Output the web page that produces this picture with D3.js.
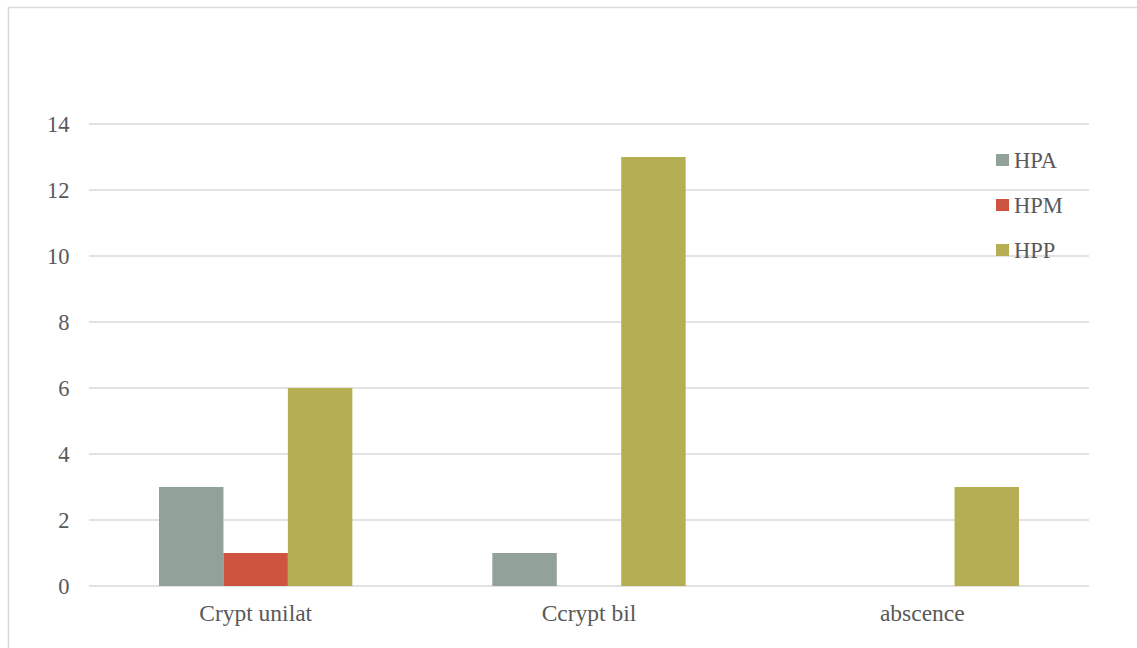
<!DOCTYPE html>
<html><head><meta charset="utf-8">
<script src="https://cdn.jsdelivr.net/npm/d3@7"></script>
<style>body{margin:0;background:#fff}svg{display:block}svg text{font-family:'Liberation Serif','Times New Roman',serif !important;fill:#595959}</style>
</head><body><svg id="c" width="1137" height="648"></svg>
<script>
const categories = ["Crypt unilat", "Ccrypt bil", "abscence"];
const seriesNames = ["HPA", "HPM", "HPP"];
const HPA = [3, 1, 0];
const HPM = [1, 0, 0];
const HPP = [6, 13, 3];
const yTicks = [0, 2, 4, 6, 8, 10, 12, 14];
const colors = ["#93A299", "#CF543F", "#B5AE53"];

(function () {
const values = [HPA, HPM, HPP];
const svg = d3.select("#c");
const mLeft = 89, mRight = 1089, mTop = 124, mBottom = 586;

svg.append("rect").attr("x", 8.5).attr("y", 7.5).attr("width", 1140).attr("height", 700)
  .attr("fill", "none").attr("stroke", "#d9d9d9").attr("stroke-width", 1.5);

const y = d3.scaleLinear().domain([0, 14]).range([mBottom, mTop]);
const x0 = d3.scaleBand().domain(categories).range([mLeft, mRight]).paddingInner(0.42).paddingOuter(0.21);
const x1 = d3.scaleBand().domain(seriesNames).range([0, x0.bandwidth()]);

svg.append("g").selectAll("line").data(yTicks).join("line")
  .attr("x1", mLeft).attr("x2", mRight).attr("y1", d => y(d)).attr("y2", d => y(d))
  .attr("stroke", "#d9d9d9").attr("stroke-width", 1.5);

const yAxis = d3.axisLeft(y).tickValues(yTicks).tickSize(0).tickPadding(0);
const ya = svg.append("g").attr("transform", `translate(${mLeft - 19.5},0)`).call(yAxis);
ya.attr("font-family", null).attr("font-size", 22.5);
ya.select(".domain").remove();
ya.selectAll("text").attr("dy", null).attr("y", 7.5);

seriesNames.forEach((s, i) => {
  svg.append("g").selectAll("rect").data(categories).join("rect")
    .attr("x", c => x0(c) + x1(s))
    .attr("width", x1.bandwidth())
    .attr("y", (c, j) => y(values[i][j]))
    .attr("height", (c, j) => y(0) - y(values[i][j]))
    .attr("fill", colors[i]);
});

const xAxis = d3.axisBottom(x0).tickSize(0).tickPadding(0);
const xa = svg.append("g").attr("transform", `translate(0,${mBottom})`).call(xAxis);
xa.attr("font-family", null).attr("font-size", 23.5);
xa.select(".domain").remove();
xa.selectAll("text").attr("dy", null).attr("y", 35);

const lg = svg.append("g").attr("font-size", 22.5);
seriesNames.forEach((s, i) => {
  const cy = 160 + i * 45;
  lg.append("rect").attr("x", 996).attr("y", cy - 6).attr("width", 13).attr("height", 12).attr("fill", colors[i]);
  lg.append("text").attr("x", 1014).attr("y", cy + 7.5).text(s);
});
})();
</script></body></html>
